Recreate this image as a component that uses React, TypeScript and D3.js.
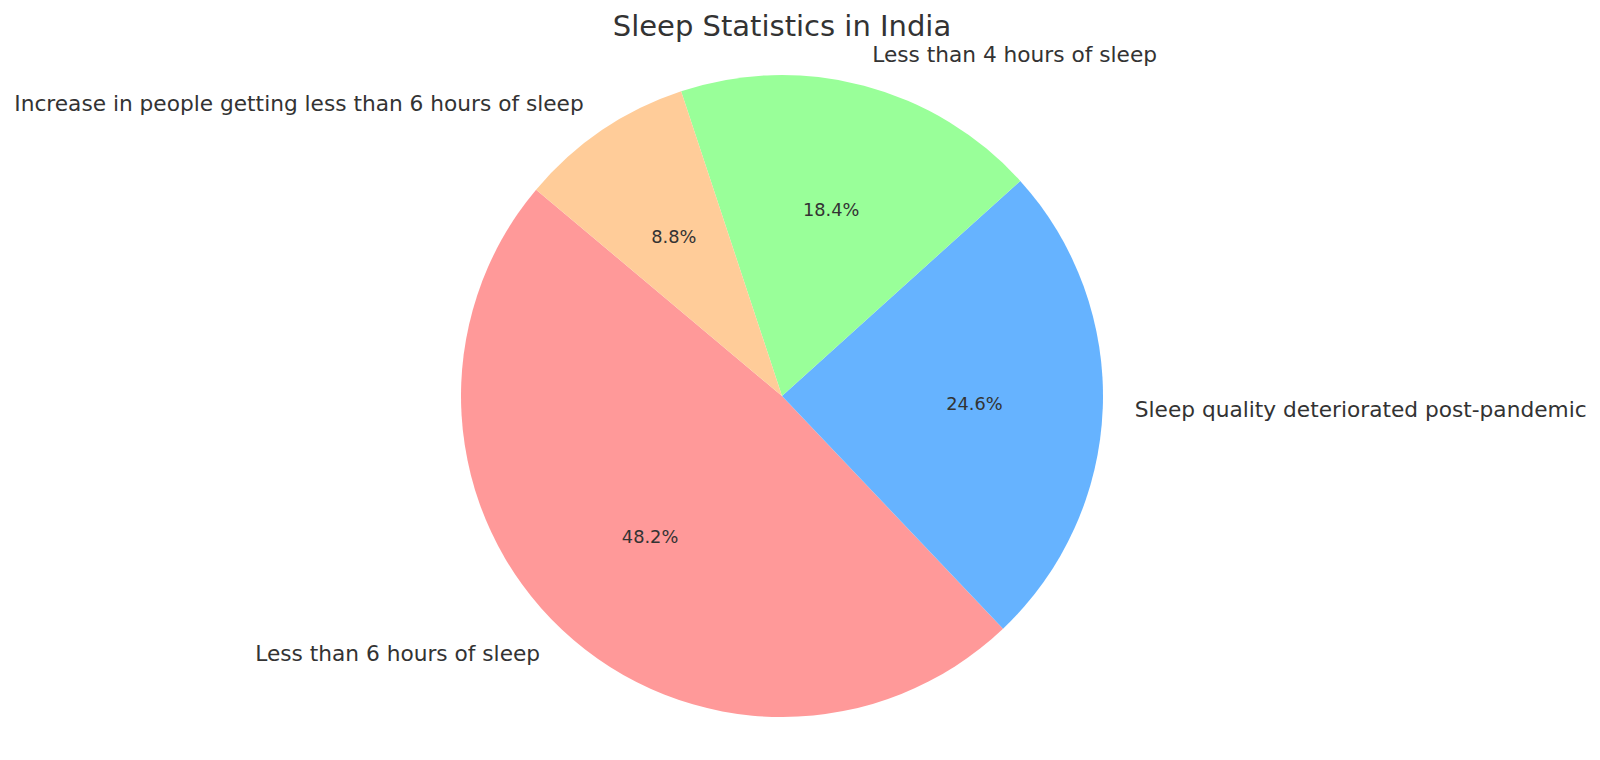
import React from "react";
import * as d3 from "d3";

const categories = [
  "Less than 6 hours of sleep",
  "Sleep quality deteriorated post-pandemic",
  "Less than 4 hours of sleep",
  "Increase in people getting less than 6 hours of sleep",
];
const values = [48.2, 24.6, 18.4, 8.8];
const colors = ["#ff9999", "#66b3ff", "#99ff99", "#ffcc99"];
const title = "Sleep Statistics in India";

const W = 1600;
const H = 760;
const cx = 782;
const cy = 396;
const R = 321;
const startDeg = 140; // matplotlib startangle, counter-clockwise

export default function App() {
  const a0 = ((90 - startDeg) * Math.PI) / 180;
  const pie = d3
    .pie<number>()
    .sort(null)
    .value((d) => d)
    .startAngle(a0)
    .endAngle(a0 - 2 * Math.PI);
  const arcs = pie(values);
  const arc = d3.arc<d3.PieArcDatum<number>>().innerRadius(0).outerRadius(R);
  const total = d3.sum(values);
  const font = "'DejaVu Sans', sans-serif";

  return (
    <svg
      width={W}
      height={H}
      style={{ position: "absolute", left: 0, top: 0, background: "#fff" }}
      fontFamily={font}
    >
      <text x={cx} y={26} textAnchor="middle" dominantBaseline="central" fontSize={29} fill="#333">
        {title}
      </text>
      <g transform={`translate(${cx},${cy})`}>
        {arcs.map((a, i) => (
          <path key={i} d={arc(a) || ""} fill={colors[i]} />
        ))}
        {arcs.map((a, i) => {
          const m = (a.startAngle + a.endAngle) / 2;
          const sx = Math.sin(m);
          const sy = -Math.cos(m);
          const lx = 1.1 * R * sx;
          const ly = 1.1 * R * sy;
          const px = 0.6 * R * sx;
          const py = 0.6 * R * sy;
          return (
            <g key={i}>
              <text
                x={lx}
                y={ly}
                textAnchor={lx > 0 ? "start" : "end"}
                dominantBaseline="central"
                fontSize={21.7}
                fill="#333"
              >
                {categories[i]}
              </text>
              <text
                x={px}
                y={py}
                textAnchor="middle"
                dominantBaseline="central"
                fontSize={17.8}
                fill="#333"
              >
                {((values[i] / total) * 100).toFixed(1) + "%"}
              </text>
            </g>
          );
        })}
      </g>
    </svg>
  );
}
